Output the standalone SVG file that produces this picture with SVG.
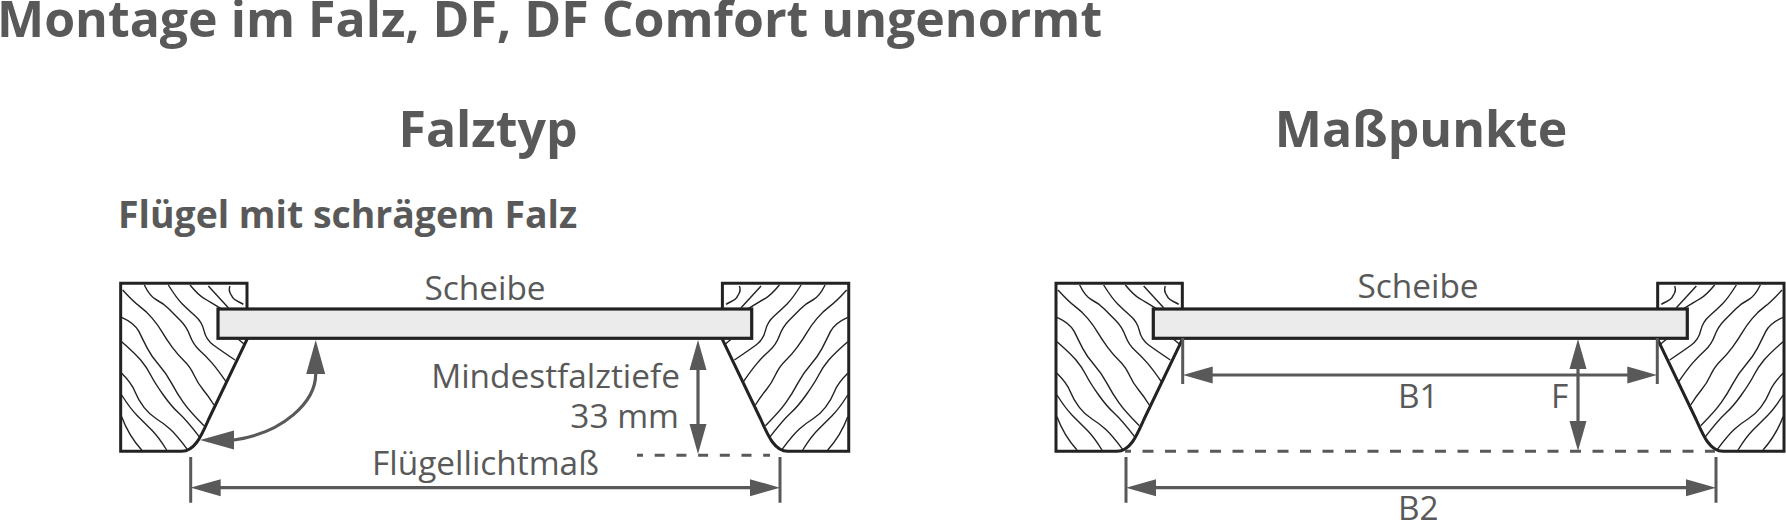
<svg xmlns="http://www.w3.org/2000/svg" xmlns:xlink="http://www.w3.org/1999/xlink" width="1786" height="521" viewBox="0 0 1786 521">
<style>
text{font-family:"Open Sans","Noto Sans","Liberation Sans",sans-serif;fill:#595959}
.h{font-weight:700}
.l{font-size:33.4px}
.frame{fill:#fff;stroke:#222;stroke-width:9;stroke-linejoin:miter}
.grain{fill:none;stroke:#222;stroke-width:4.2}
.glass{fill:#ebebeb;stroke:#222;stroke-width:3.2}
.dim{fill:none;stroke:#595959;stroke-width:3.2}
.tick{fill:none;stroke:#595959;stroke-width:3}
.dash{fill:none;stroke:#595959;stroke-width:3}
</style>
<defs>
<marker id="ah" markerUnits="userSpaceOnUse" viewBox="0 -9 30 18" markerWidth="30" markerHeight="18" refX="20" refY="0" orient="auto-start-reverse"><path d="M0,-8.500L30,0L0,8.500Z" fill="#595959"/></marker>
<marker id="ahb" markerUnits="userSpaceOnUse" viewBox="0 -10 34 20" markerWidth="34" markerHeight="20" refX="24" refY="0" orient="auto-start-reverse"><path d="M0,-9.500L34,0L0,9.500Z" fill="#595959"/></marker>
<g id="wood">
<path class="frame" d="M62,70H441V238L325,480C305,525 285,574 245,574H62Z"/>
<path class="grain" d="M68,90Q100,125 120,140T157,175T187,217T217,262T252,302T282,345T310,390T342,435"/>
<path class="grain" d="M133,75Q150,110 170,120T207,147T242,182T270,227T300,272T337,310T378,365"/>
<path class="grain" d="M205,75Q230,115 247,132T285,167T312,212T340,255T405,300"/>
<path class="grain" d="M270,75Q295,105 312,115T362,145"/>
<path class="grain" d="M325,78Q350,105 385,143"/>
<path class="grain" d="M390,78C382,95 395,105 398,113C406,125 420,125 430,133"/>
<path class="grain" d="M415,238L432,252"/>
<path class="grain" d="M65,172Q105,190 117,215T142,265T177,315T215,370T250,427T312,497"/>
<path class="grain" d="M65,245Q105,280 122,300T152,345T190,405T237,460T300,533"/>
<path class="grain" d="M65,340Q95,370 105,395T132,442T170,477T210,507T262,568"/>
<path class="grain" d="M65,405Q90,445 112,467T155,510T200,570"/>
<path class="grain" d="M65,470Q85,525 125,570"/>
</g>
</defs>
<g id="titles">
<text class="h" x="-3" y="37" font-size="50">Montage im Falz, DF, DF Comfort ungenormt</text>
<text class="h" x="488" y="147" font-size="50" text-anchor="middle">Falztyp</text>
<text class="h" x="1421" y="147" font-size="50" text-anchor="middle">Maßpunkte</text>
<text class="h" x="118" y="228" font-size="37.400">Flügel mit schrägem Falz</text>
</g>
<g id="falztyp-frame-left"><use href="#wood" transform="translate(100,260) scale(.33333)"/></g>
<g id="falztyp-frame-right"><use href="#wood" transform="translate(869.4,260) scale(-.33333,.33333)"/></g>
<g id="falztyp-glass"><rect class="glass" x="218" y="309" width="533.7" height="29.3"/><text class="l" x="485" y="300" text-anchor="middle">Scheibe</text></g>
<g id="masspunkte-frame-left"><use href="#wood" transform="translate(1035.33,260) scale(.33333)"/></g>
<g id="masspunkte-frame-right"><use href="#wood" transform="translate(1804.67,260) scale(-.33333,.33333)"/></g>
<g id="masspunkte-glass"><rect class="glass" x="1153.3" y="309" width="534" height="29.3"/><text class="l" x="1418" y="298" text-anchor="middle">Scheibe</text></g>
<g id="connectors">
<path class="dim" d="M315.700,350V374C315.700,402 283,433 234,440H210" marker-start="url(#ahb)" marker-end="url(#ahb)"/>
<path class="tick" d="M190.700,457V502.700M780,457V502.700M1126,457V502.700M1716,457V502.700M1182.700,338V384M1657.300,338V384"/>
<path class="dim" d="M200.700,487.700H770" marker-start="url(#ah)" marker-end="url(#ah)"/>
<path class="dim" d="M698,350V444" marker-start="url(#ah)" marker-end="url(#ah)"/>
<path class="dash" d="M637,455.300H770" stroke-dasharray="10 11.700" stroke-dashoffset="4"/>
<path class="dim" d="M1192.700,375H1647.300" marker-start="url(#ah)" marker-end="url(#ah)"/>
<path class="dim" d="M1578,349V441" marker-start="url(#ah)" marker-end="url(#ah)"/>
<path class="dash" d="M1125,451.300H1715" stroke-dasharray="11 11.500" stroke-dashoffset="5"/>
<path class="dim" d="M1136,487.700H1706" marker-start="url(#ah)" marker-end="url(#ah)"/>
</g>
<g id="labels">
<text class="l" x="680" y="388" text-anchor="end">Mindestfalztiefe</text>
<text class="l" x="679" y="428" text-anchor="end">33 mm</text>
<text class="l" x="372" y="475">Flügellichtmaß</text>
<text class="l" x="1398" y="408">B1</text>
<text class="l" x="1551" y="408">F</text>
<text class="l" x="1398" y="520">B2</text>
</g>
</svg>
